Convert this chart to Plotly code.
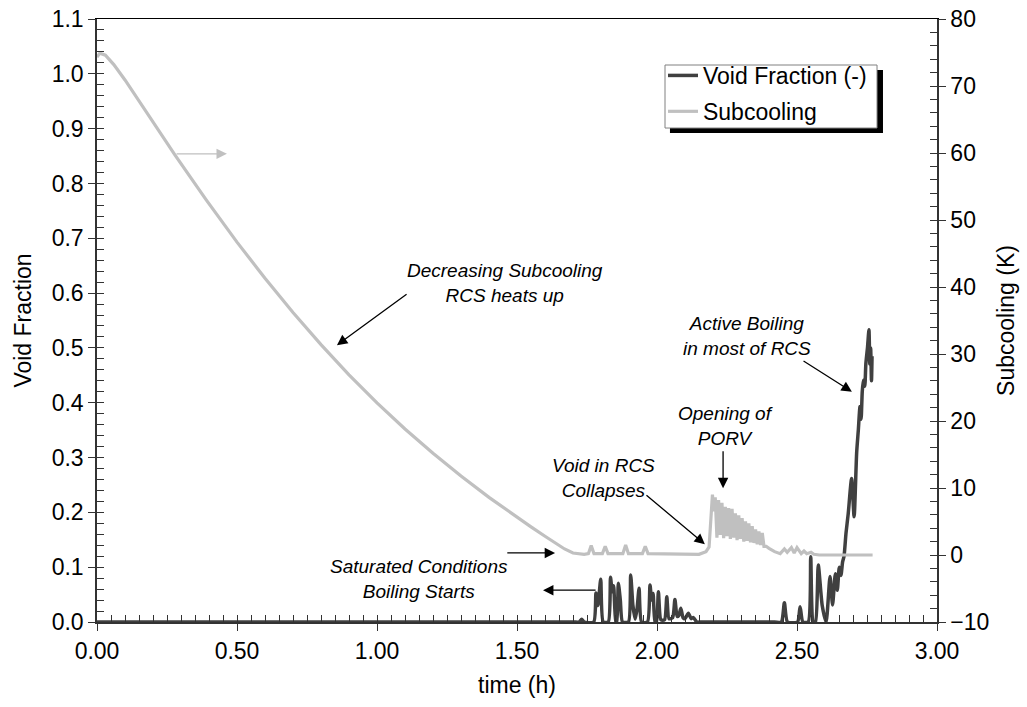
import plotly.graph_objects as go

# ---- Subcooling history (time in h, subcooling in K) ----
sub_time = [0.00, 0.01, 0.03, 0.06, 0.10, 0.15, 0.20, 0.28, 0.39, 0.50, 0.60, 0.70,
            0.80, 0.90, 1.00, 1.10, 1.20, 1.30, 1.40, 1.50, 1.55, 1.60, 1.64, 1.67,
            1.70, 1.74, 1.755, 1.765, 1.775, 1.805, 1.815, 1.825, 1.878, 1.888, 1.898,
            1.948, 1.958, 1.968, 2.150, 2.175, 2.186, 2.192, 2.198,
            2.203, 2.208, 2.214, 2.220, 2.226, 2.232, 2.238, 2.244, 2.250, 2.256,
            2.262, 2.268, 2.274, 2.280, 2.286, 2.292, 2.298, 2.304, 2.310, 2.316,
            2.322, 2.328, 2.334, 2.340, 2.346, 2.352, 2.358, 2.364, 2.370, 2.376,
            2.382, 2.390, 2.400, 2.420, 2.440, 2.455, 2.465, 2.480, 2.490, 2.500,
            2.515, 2.525, 2.535, 2.550, 2.560, 2.580, 2.770]
subcooling = [74.3, 74.9, 74.6, 73.2, 70.9, 67.8, 64.6, 59.6, 53.0, 46.7, 41.3, 36.2,
              31.4, 26.9, 22.7, 18.8, 15.2, 11.8, 8.6, 5.6, 4.2, 2.8, 1.7, 0.9,
              0.3, 0.1, 0.2, 1.4, 0.2, 0.2, 1.3, 0.2, 0.2, 1.5, 0.2,
              0.2, 1.3, 0.2, 0.1, 0.5, 1.2, 6.0, 9.0,
              6.5, 8.6, 2.6, 8.2, 3.0, 7.8, 2.5, 7.2, 2.8, 7.0,
              2.4, 6.9, 2.6, 6.2, 2.2, 5.9, 2.4, 5.5, 2.0, 5.0,
              2.1, 4.7, 1.9, 4.3, 1.8, 3.8, 1.6, 3.5, 1.5, 3.3,
              1.3, 1.3, 1.0, 0.5, 0.2, 0.9, 0.4, 1.1, 0.3, 1.1,
              0.2, 0.6, 0.2, 0.4, 0.1, 0.0, 0.0]

# ---- Void fraction history (time in h, void fraction in -) ----
void_time = [0.000, 1.700, 1.722, 1.731, 1.740, 1.774, 1.782, 1.789, 1.799, 1.808, 1.826,
             1.834, 1.840, 1.845, 1.853, 1.856, 1.862, 1.869, 1.877, 1.898, 1.906,
             1.914, 1.922, 1.929, 1.936, 1.945, 1.966, 1.975, 1.981, 1.986, 1.993,
             1.998, 2.005, 2.014, 2.027, 2.035, 2.043, 2.056, 2.064, 2.072, 2.078,
             2.085, 2.093, 2.100, 2.112, 2.122, 2.130, 2.142, 2.160, 2.420, 2.444,
             2.455, 2.466, 2.502, 2.511, 2.521, 2.540, 2.549, 2.558, 2.566, 2.576,
             2.590, 2.604, 2.618, 2.627, 2.637, 2.644, 2.651, 2.657, 2.663, 2.668,
             2.675, 2.683, 2.695, 2.704, 2.713, 2.719, 2.725, 2.729, 2.733, 2.737,
             2.742, 2.746, 2.752, 2.757, 2.760, 2.763, 2.766, 2.768]
void_fraction = [0.0, 0.0, 0.0, 0.005, 0.0, 0.0, 0.053, 0.030, 0.078, 0.0, 0.0,
                 0.0815, 0.055, 0.066, 0.0, 0.0, 0.0706, 0.040, 0.0, 0.0, 0.0857,
                 0.030, 0.005, 0.025, 0.0614, 0.0, 0.0, 0.0675, 0.040, 0.052, 0.0,
                 0.0, 0.0553, 0.004, 0.004, 0.046, 0.006, 0.008, 0.041, 0.010, 0.012,
                 0.025, 0.008, 0.006, 0.016, 0.006, 0.008, 0.0, 0.0, 0.0, 0.0,
                 0.035, 0.0, 0.0, 0.028, 0.0, 0.0, 0.119, 0.0, 0.0, 0.104,
                 0.030, 0.0, 0.083, 0.031, 0.088, 0.058, 0.100, 0.085, 0.110, 0.120,
                 0.162, 0.198, 0.262, 0.192, 0.308, 0.350, 0.393, 0.370, 0.420, 0.441,
                 0.430, 0.472, 0.502, 0.533, 0.470, 0.500, 0.440, 0.485]

series_names = ["Void Fraction (-)", "Subcooling"]
x_title = "time (h)"
y_title = "Void Fraction"
y2_title = "Subcooling (K)"

FONT = "Liberation Sans, Arial, sans-serif"
AXIS_GREY = "#333333"
DARK = "#404040"
LIGHT = "#c0c0c0"

fig = go.Figure()
fig.add_trace(go.Scatter(x=sub_time, y=subcooling, name=series_names[1], yaxis="y2",
                         mode="lines", line=dict(color=LIGHT, width=3.2),
                         legendrank=2, legendgroup="b"))
fig.add_trace(go.Scatter(x=void_time, y=void_fraction, name=series_names[0], yaxis="y",
                         mode="lines", line=dict(color=DARK, width=3.5, shape="spline",
                                                 smoothing=0.6),
                         legendrank=1, legendgroup="a"))

# empty traces so the overlay axes (inner tick marks, top frame) get drawn
for xa, ya in [("x3", "y"), ("x4", "y"), ("x", "y3"), ("x", "y4")]:
    fig.add_trace(go.Scatter(x=[None], y=[None], xaxis=xa, yaxis=ya, mode="lines",
                             showlegend=False, hoverinfo="skip"))

tick_font = dict(family=FONT, size=23, color="black")

fig.update_layout(
    template="none",
    width=1027, height=707,
    margin=dict(l=97, r=90, t=19, b=85),
    paper_bgcolor="white", plot_bgcolor="white",
    font=dict(family=FONT, size=23, color="black"),
    showlegend=True,
    legend=dict(x=0.6738, xanchor="left", y=0.942, yanchor="top",
                bgcolor="rgba(0,0,0,0)", borderwidth=0,
                font=dict(family=FONT, size=23, color="black"),
                itemwidth=30, tracegroupgap=3, traceorder="grouped"),
    xaxis=dict(range=[0, 3], tick0=0, dtick=0.5, tickformat=".2f",
               ticks="outside", ticklen=7, tickwidth=1.2, tickcolor=AXIS_GREY,
               showline=True, linecolor=AXIS_GREY, linewidth=2, automargin=False,
               showgrid=False, zeroline=False, tickfont=tick_font,
               title=dict(text=x_title, font=tick_font, standoff=14)),
    yaxis=dict(range=[0, 1.1], tick0=0, dtick=0.1, tickformat=".1f",
               ticks="outside", ticklen=7, tickwidth=1.2, tickcolor=AXIS_GREY,
               showline=True, linecolor=AXIS_GREY, linewidth=1.5, automargin=False,
               showgrid=False, zeroline=False, tickfont=tick_font,
               title=dict(text=y_title, font=tick_font, standoff=14)),
    yaxis2=dict(range=[-10, 80], tick0=0, dtick=10, overlaying="y", side="right",
                anchor="x", ticks="outside", ticklen=7, tickwidth=1.2, tickcolor=AXIS_GREY,
                showline=True, linecolor=AXIS_GREY, linewidth=1.5, automargin=False,
                showgrid=False, zeroline=False, tickfont=tick_font,
                title=dict(text=y2_title, font=tick_font, standoff=10)),
    # inner tick marks (minor and major) and the top frame line
    xaxis3=dict(range=[0, 3], tick0=0, dtick=0.05, overlaying="x", anchor="y", side="bottom",
                ticks="inside", ticklen=7, tickwidth=1.2, tickcolor=AXIS_GREY,
                showticklabels=False, showline=False, showgrid=False, zeroline=False,
                automargin=False),
    xaxis4=dict(range=[0, 3], overlaying="x", anchor="y", side="top",
                ticks="", showticklabels=False, showline=True, linecolor="black",
                linewidth=1, showgrid=False, zeroline=False, automargin=False),
    yaxis3=dict(range=[0, 1.1], tick0=0, dtick=0.02, overlaying="y", anchor="x", side="left",
                ticks="inside", ticklen=7, tickwidth=1.2, tickcolor=AXIS_GREY,
                showticklabels=False, showline=False, showgrid=False, zeroline=False,
                automargin=False),
    yaxis4=dict(range=[-10, 80], tick0=0, dtick=2, overlaying="y", anchor="x", side="right",
                ticks="inside", ticklen=7, tickwidth=1.2, tickcolor=AXIS_GREY,
                showticklabels=False, showline=False, showgrid=False, zeroline=False,
                automargin=False),
)

# legend frame with its drop shadow
fig.add_shape(type="rect", xref="paper", yref="paper",
              x0=0.6821, x1=0.9357, y0=0.8109, y1=0.9154,
              fillcolor="black", line=dict(width=0), layer="above")
fig.add_shape(type="rect", xref="paper", yref="paper",
              x0=0.6762, x1=0.9286, y0=0.8192, y1=0.9237,
              fillcolor="white", line=dict(color="#808080", width=1), layer="above")

note_font = dict(family=FONT, size=19, color="black")


def note(text, x, y):
    fig.add_annotation(text=text, x=x, y=y, xref="x", yref="y", showarrow=False,
                       font=note_font, align="center")


def arrow(x, y, ax, ay, color="black"):
    fig.add_annotation(text="", x=x, y=y, ax=ax, ay=ay, xref="x", yref="y",
                       axref="x", ayref="y", showarrow=True, arrowhead=2,
                       arrowsize=1.6, arrowwidth=1.3, arrowcolor=color, standoff=0)


note("<i>Decreasing Subcooling</i><br><i>RCS heats up</i>", 1.457, 0.619)
arrow(0.857, 0.505, 1.111, 0.600)

note("<i>Saturated Conditions</i><br><i>Boiling Starts</i>", 1.15, 0.078)
arrow(1.636, 0.126, 1.46, 0.126)

arrow(1.593, 0.058, 1.786, 0.058)

note("<i>Void in RCS</i><br><i>Collapses</i>", 1.81, 0.262)
arrow(2.171, 0.142, 1.957, 0.2335)

note("<i>Opening of</i><br><i>PORV</i>", 2.243, 0.358)
arrow(2.236, 0.244, 2.236, 0.314)

note("<i>Active Boiling</i><br><i>in most of RCS</i>", 2.32, 0.521)
arrow(2.696, 0.42, 2.518, 0.478)

arrow(0.464, 0.854, 0.279, 0.854, color=LIGHT)

fig.write_html("out.html")
